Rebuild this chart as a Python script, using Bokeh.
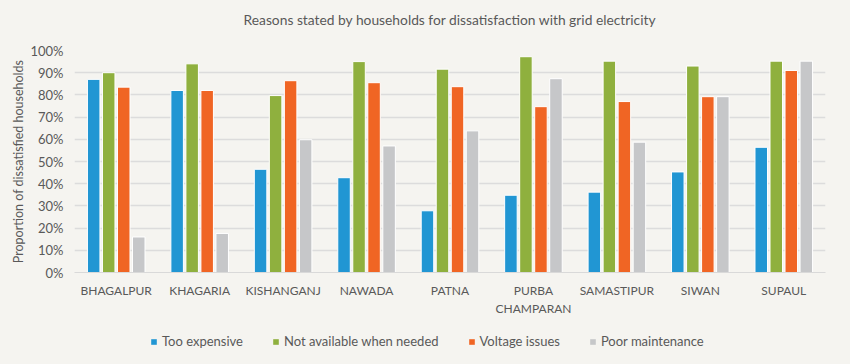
from bokeh.plotting import figure
from bokeh.layouts import column
from bokeh.models import ColumnDataSource, FactorRange, Legend, LegendItem, NumeralTickFormatter, Range1d
from bokeh.transform import dodge
from bokeh.embed import file_html
from bokeh.resources import INLINE

districts = ["BHAGALPUR", "KHAGARIA", "KISHANGANJ", "NAWADA", "PATNA",
             "PURBA\nCHAMPARAN", "SAMASTIPUR", "SIWAN", "SUPAUL"]
too_expensive = [0.87, 0.82, 0.465, 0.427, 0.278, 0.348, 0.362, 0.453, 0.564]
not_available = [0.90, 0.94, 0.797, 0.95, 0.916, 0.972, 0.952, 0.93, 0.952]
voltage_issues = [0.835, 0.82, 0.864, 0.855, 0.837, 0.747, 0.77, 0.792, 0.91]
poor_maintenance = [0.16, 0.176, 0.598, 0.57, 0.638, 0.873, 0.587, 0.792, 0.952]
series_names = ["Too expensive", "Not available when needed", "Voltage issues", "Poor maintenance"]
colors = ["#2196d3", "#8fb03e", "#f06524", "#c6c7c9"]
title_text = "Reasons stated by households for dissatisfaction with grid electricity"

FONT = "Lato"
TXT = "#595959"
BG = "#f5f4f0"

source = ColumnDataSource(dict(x=districts, a=too_expensive, b=not_available,
                               c=voltage_issues, d=poor_maintenance))
cols = ["a", "b", "c", "d"]
offsets = [-0.27, -0.09, 0.09, 0.27]


def blank_strip(height, **kw):
    f = figure(width=850, height=height, output_backend="svg", toolbar_location=None,
               x_axis_location=None, y_axis_location=None, **kw)
    f.background_fill_color = BG
    f.border_fill_color = BG
    f.outline_line_color = None
    f.xgrid.grid_line_color = None
    f.ygrid.grid_line_color = None
    return f


# ---- title strip ----
tt = blank_strip(38, x_range=Range1d(0, 1), y_range=Range1d(0, 1),
                 min_border_left=0, min_border_right=0, min_border_top=35, min_border_bottom=0,
                 title=title_text)
tt.title.align = "center"
tt.title.offset = -26
tt.title.text_font = FONT
tt.title.text_font_style = "normal"
tt.title.text_font_size = "13.8px"
tt.title.text_color = TXT
tt.title.standoff = 16

# ---- main chart ----
p = figure(x_range=FactorRange(*districts), y_range=Range1d(0, 1.0),
           width=850, height=280,
           output_backend="svg", toolbar_location=None,
           min_border_left=74, min_border_right=25, min_border_top=12, min_border_bottom=45)

p.background_fill_color = BG
p.border_fill_color = BG
p.outline_line_color = None

for col, off, color in zip(cols, offsets, colors):
    p.vbar(x=dodge("x", off, range=p.x_range), top=col, width=0.15, source=source,
           fill_color=color, line_color="white", line_width=1)

p.yaxis.formatter = NumeralTickFormatter(format="0%")
p.yaxis.ticker = [i / 10 for i in range(11)]
p.yaxis.axis_line_color = None
p.yaxis.major_tick_line_color = None
p.yaxis.minor_tick_line_color = None
p.yaxis.axis_label = "Proportion of dissatisfied households"
p.yaxis.axis_label_text_font = FONT
p.yaxis.axis_label_text_font_style = "normal"
p.yaxis.axis_label_text_font_size = "12.5px"
p.yaxis.axis_label_text_color = TXT
p.yaxis.axis_label_standoff = 1
p.yaxis.major_label_text_font = FONT
p.yaxis.major_label_text_font_size = "13px"
p.yaxis.major_label_text_color = TXT

p.xaxis.axis_line_color = "#d9d9d9"
p.xaxis.major_tick_line_color = None
p.xaxis.minor_tick_line_color = None
p.xaxis.major_label_text_font = FONT
p.xaxis.major_label_text_font_size = "12px"
p.xaxis.major_label_text_color = TXT
p.xaxis.major_label_standoff = 4

p.xgrid.grid_line_color = None
p.ygrid.grid_line_color = "#dcdcdc"
p.ygrid.grid_line_width = 1.5

# ---- legend strip (series drawn out of view; only the legend shows) ----
lg = blank_strip(46, x_range=p.x_range, y_range=Range1d(10, 11),
                 min_border_left=0, min_border_right=0, min_border_top=0, min_border_bottom=0)
items = []
for name, col, off, color in zip(series_names, cols, offsets, colors):
    r = lg.vbar(x=dodge("x", off, range=lg.x_range), top=col, width=0.15, source=source,
                fill_color=color, line_color=None)
    items.append(LegendItem(label=name, renderers=[r]))

legend = Legend(items=items, orientation="horizontal", location=(76, 15))
legend.background_fill_alpha = 0
legend.border_line_color = None
legend.label_text_font = FONT
legend.label_text_font_size = "13px"
legend.label_text_color = TXT
legend.glyph_width = 7
legend.glyph_height = 7
legend.label_standoff = 5
legend.spacing = 29
legend.margin = 0
legend.padding = 0
lg.add_layout(legend, "center")

layout = column(tt, p, lg, spacing=0)
layout.styles = {"background-color": BG}

open("out.html", "w").write(file_html(layout, INLINE))
